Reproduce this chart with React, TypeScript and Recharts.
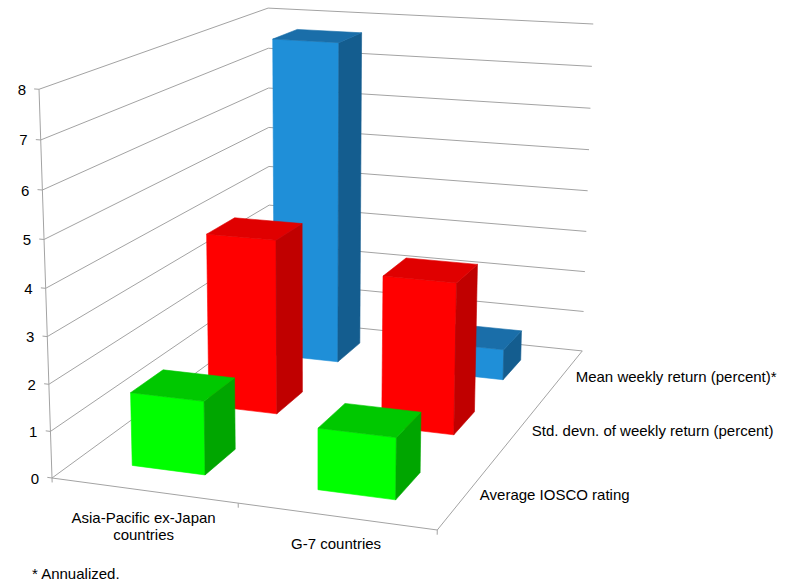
import { BarChart, Bar, XAxis, YAxis, Customized } from 'recharts';

// categories along the front edge, series along the depth axis
const categories = ['Asia-Pacific ex-Japan\ncountries', 'G-7 countries'];
const seriesNames = [
  'Average IOSCO rating',
  'Std. devn. of weekly return (percent)',
  'Mean weekly return (percent)*',
];
const ioscoRating = [1.58, 1.3];
const stdDevWeekly = [3.97, 3.39];
const meanWeekly = [7.7, 0.73];
const valueTicks = [0, 1, 2, 3, 4, 5, 6, 7, 8];
const Y_MAX = 8;

const data = categories.map((name, i) => ({
  name,
  iosco: ioscoRating[i],
  std: stdDevWeekly[i],
  mean: meanWeekly[i],
}));

const W = 788;
const H = 582;
const FONT = '"Liberation Sans", Arial, sans-serif';
const GRID = '#a3a3a3';

// perspective: origin (front-left floor corner) plus vanishing points of the X, Y, Z axes
const ORIGIN = [52, 478];
const VP_X = [-5536, -276];
const VP_Y = [314, 8325];
const VP_Z = [1098, -286];
const KX = -0.0645;
const KY = -0.0472;
const KZ = 0.263;

// x: 0..1 across categories, y: 0..1 of value range, z: 0..1 front to back
function project(x: number, y: number, z: number): [number, number] {
  const wx = KX * x;
  const wy = KY * y;
  const wz = KZ * z;
  const den = 1 + wx + wy + wz;
  return [
    (wx * VP_X[0] + wy * VP_Y[0] + wz * VP_Z[0] + ORIGIN[0]) / den,
    (wx * VP_X[1] + wy * VP_Y[1] + wz * VP_Z[1] + ORIGIN[1]) / den,
  ];
}

const pts = (list: [number, number, number][]) =>
  list.map(([x, y, z]) => project(x, y, z).map((v) => v.toFixed(2)).join(',')).join(' ');

const BAR_W = 0.2;
const BAR_D = 0.4 / seriesNames.length;

interface Shade { front: string; top: string; side: string }

const SHADES: Shade[] = [
  { front: '#00ff00', top: '#00c800', side: '#00a600' },
  { front: '#ff0000', top: '#e00000', side: '#c00000' },
  { front: '#1f8fd8', top: '#1a6ea9', side: '#145d8f' },
];

function makeBox(seriesIdx: number) {
  const shade = SHADES[seriesIdx];
  return (props: any) => {
    const { index, height, background } = props;
    const plotH = background?.height || H;
    const yn = Math.max(0, height) / plotH;
    const cx = (index + 0.5) / categories.length;
    const cz = (seriesIdx + 0.5) / seriesNames.length;
    const x0 = cx - BAR_W / 2;
    const x1 = cx + BAR_W / 2;
    const z0 = cz - BAR_D / 2;
    const z1 = cz + BAR_D / 2;
    const face = (fill: string, p: [number, number, number][]) => (
      <polygon points={pts(p)} fill={fill} stroke={fill} strokeWidth={0.6} strokeLinejoin="round" />
    );
    return (
      <g>
        {face(shade.front, [[x0, 0, z0], [x1, 0, z0], [x1, yn, z0], [x0, yn, z0]])}
        {face(shade.side, [[x1, 0, z0], [x1, 0, z1], [x1, yn, z1], [x1, yn, z0]])}
        {face(shade.top, [[x0, yn, z0], [x1, yn, z0], [x1, yn, z1], [x0, yn, z1]])}
      </g>
    );
  };
}

function Line3D({ a, b }: { a: [number, number, number]; b: [number, number, number] }) {
  const [x1, y1] = project(...a);
  const [x2, y2] = project(...b);
  return <line x1={x1} y1={y1} x2={x2} y2={y2} stroke={GRID} strokeWidth={1} />;
}

function Frame() {
  return (
    <g>
      {/* walls */}
      {valueTicks.map((v) => {
        const y = v / Y_MAX;
        return (
          <g key={v}>
            <Line3D a={[0, y, 0]} b={[0, y, 1]} />
            <Line3D a={[0, y, 1]} b={[1, y, 1]} />
            <Line3D a={[0, y, 0]} b={[-0.013, y, 0]} />
          </g>
        );
      })}
      {/* floor edges and value axis */}
      <Line3D a={[0, 0, 0]} b={[0, 1, 0]} />
      <Line3D a={[0, 0, 0]} b={[1, 0, 0]} />
      <Line3D a={[1, 0, 0]} b={[1, 0, 1]} />
      {[0, 0.5, 1].map((x) => (
        <Line3D key={x} a={[x, 0, 0]} b={[x, -0.012, 0]} />
      ))}

      {valueTicks.map((v) => {
        const [x, y] = project(0, v / Y_MAX, 0);
        return (
          <text key={v} x={x - 13} y={y} textAnchor="end" dominantBaseline="central"
            fontFamily={FONT} fontSize={15} fill="#000">
            {v}
          </text>
        );
      })}

      {categories.map((c, i) => {
        const [x, y] = project((i + 0.5) / categories.length, 0, 0);
        return (
          <text key={c} x={x} y={y + 33} textAnchor="middle" fontFamily={FONT} fontSize={15} fill="#000">
            {c.split('\n').map((line, k) => (
              <tspan key={k} x={x} dy={k === 0 ? 0 : 17}>{line}</tspan>
            ))}
          </text>
        );
      })}

      {seriesNames.map((s, i) => {
        const [x, y] = project(1, 0, (i + 0.5) / seriesNames.length);
        return (
          <text key={s} x={x + 13} y={y + 1} dominantBaseline="central"
            fontFamily={FONT} fontSize={15} fill="#000">
            {s}
          </text>
        );
      })}

      <text x={32} y={579} fontFamily={FONT} fontSize={15} fill="#000">* Annualized.</text>
    </g>
  );
}

export default function App() {
  return (
    <div style={{ position: 'absolute', left: 0, top: 0, width: W, height: H, background: '#fff' }}>
      <BarChart width={W} height={H} data={data} margin={{ top: 0, right: 0, bottom: 0, left: 0 }}>
        <XAxis dataKey="name" hide />
        <YAxis domain={[0, Y_MAX]} hide />
        <Customized component={<Frame />} />
        {/* back row first so nearer boxes cover it */}
        <Bar dataKey="mean" name={seriesNames[2]} shape={makeBox(2)} isAnimationActive={false} />
        <Bar dataKey="std" name={seriesNames[1]} shape={makeBox(1)} isAnimationActive={false} />
        <Bar dataKey="iosco" name={seriesNames[0]} shape={makeBox(0)} isAnimationActive={false} />
      </BarChart>
    </div>
  );
}
